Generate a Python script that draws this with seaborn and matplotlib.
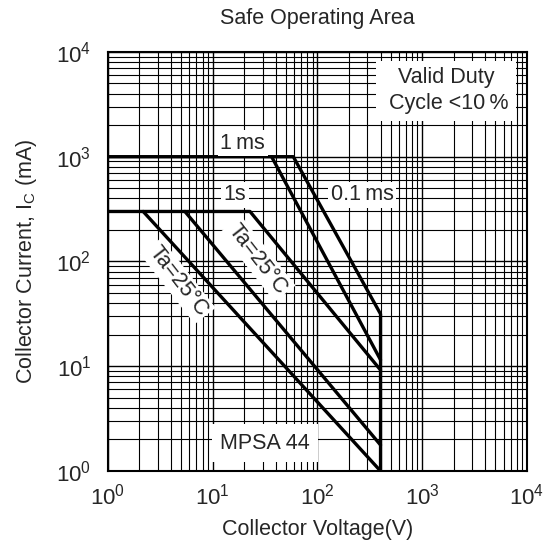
import matplotlib
matplotlib.use("Agg")
import matplotlib.pyplot as plt
import seaborn as sns
import pandas as pd
from matplotlib.ticker import LogLocator

# SOA boundaries (V in volts, Ic in mA)
v_pulse_01ms = [1, 58.8, 400, 400]
i_pulse_01ms = [1000, 1000, 31.5, 1]
v_pulse_1ms = [36.5, 400]
i_pulse_1ms = [1000, 11.5]
v_dc_1s = [1, 22.7, 400]
i_dc_1s = [300, 300, 9.2]
v_ta_b = [5.43, 400]
i_ta_b = [300, 1.77]
v_ta_a = [2.17, 400]
i_ta_a = [300, 1.0]

tick_vals = [1, 10, 100, 1000, 10000]

sns.set_style("white")
plt.rcParams['font.family'] = ['Liberation Sans', 'DejaVu Sans']
plt.rcParams['mathtext.fontset'] = 'custom'
plt.rcParams['mathtext.rm'] = 'Liberation Sans'
plt.rcParams['mathtext.it'] = 'Liberation Sans:italic'

fig = plt.figure(figsize=(5.45, 5.5), dpi=100)
ax = fig.add_axes([0.198, 0.1436, 0.769, 0.762])
ax.set_xscale('log')
ax.set_yscale('log')

segments = [
    (v_pulse_01ms, i_pulse_01ms),
    (v_pulse_1ms, i_pulse_1ms),
    (v_dc_1s, i_dc_1s),
    (v_ta_b, i_ta_b),
    (v_ta_a, i_ta_a),
]
for xs, ys in segments:
    df = pd.DataFrame({'V': xs, 'I': ys})
    sns.lineplot(data=df, x='V', y='I', sort=False, estimator=None, color='black',
                 lw=2.4, ax=ax, zorder=3)

ax.set_xlim(1, 1e4)
ax.set_ylim(1, 1e4)
ax.xaxis.set_major_locator(LogLocator(base=10))
ax.yaxis.set_major_locator(LogLocator(base=10))
ax.xaxis.set_minor_locator(LogLocator(base=10, subs=range(2, 10)))
ax.yaxis.set_minor_locator(LogLocator(base=10, subs=range(2, 10)))
ax.set_xticks(tick_vals)
ax.set_yticks(tick_vals)
ax.grid(True, which='major', color='black', lw=1.0)
ax.grid(True, which='minor', color='black', lw=0.8)
ax.tick_params(which='both', length=0, labelsize=16)
ax.tick_params(axis='x', pad=9)
ax.tick_params(axis='y', pad=12)
for s in ax.spines.values():
    s.set_color('black')
    s.set_linewidth(1.5)

ax.set_xlabel('Collector Voltage(V)', fontsize=15.5, labelpad=7)
ax.set_ylabel(r'Collector Current, I$_{\mathrm{C}}$ (mA)', fontsize=15.5, labelpad=12)
ax.set_title('Safe Operating Area', fontsize=15.5, pad=20)

box = dict(facecolor='white', edgecolor='none', pad=2)
ax.text(19.4, 1350, '1\u2009ms', fontsize=15.5, ha='center', va='center', bbox=box, zorder=4)
ax.text(16.3, 431, '1s', fontsize=15.5, ha='center', va='center', bbox=box, zorder=4)
ax.text(266, 431, '0.1\u2009ms', fontsize=15.5, ha='center', va='center', bbox=box, zorder=4)
ax.text(4.66, 65, 'Ta=25°C', fontsize=15.5, ha='center', va='center', rotation=-52,
        rotation_mode='anchor', bbox=box, zorder=4)
ax.text(27, 106, 'Ta=25°C', fontsize=15.5, ha='center', va='center', rotation=-52,
        rotation_mode='anchor', bbox=box, zorder=4)
ax.text(31.5, 1.85, 'MPSA 44', fontsize=15.5, ha='center', va='center',
        bbox=dict(facecolor='white', edgecolor='none', pad=6), zorder=4)
ax.text(0.807, 0.907, 'Valid Duty\n Cycle <10\u2009%', transform=ax.transAxes, fontsize=15.5,
        ha='center', va='center', linespacing=1.3,
        bbox=dict(facecolor='white', edgecolor='none', pad=5), zorder=4)

fig.savefig('out.png', dpi=100)
